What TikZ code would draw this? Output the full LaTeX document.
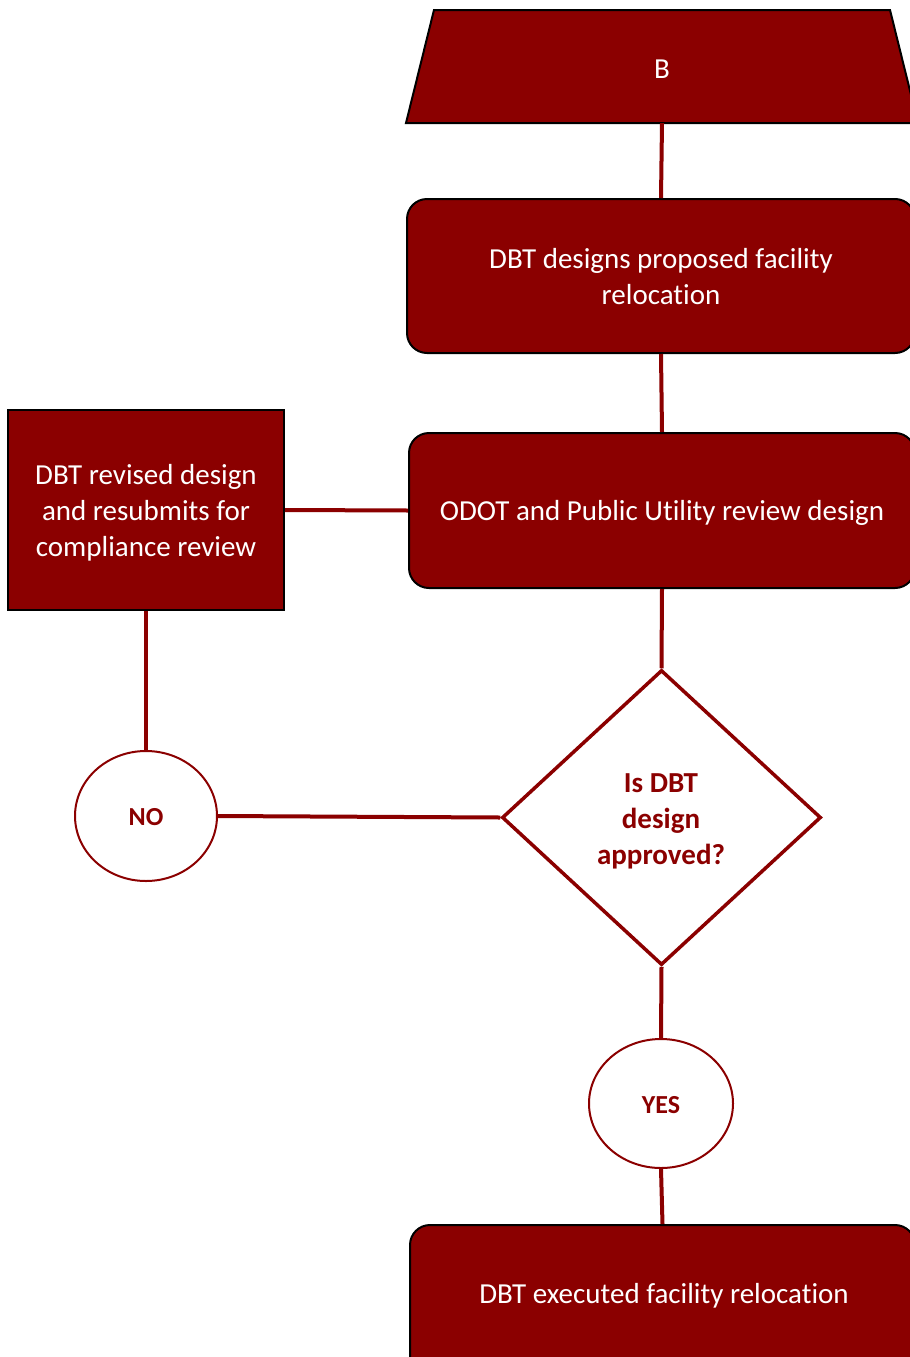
\documentclass[tikz,border=0pt]{standalone}
\usepackage{fontspec}
\setmainfont[Ligatures=NoCommon]{Carlito}
\usetikzlibrary{shapes.geometric}
\definecolor{dred}{HTML}{8B0000}
\begin{document}
\begin{tikzpicture}[x=1pt,y=-1pt,
  procbox/.style={draw=black,line width=2pt,fill=dred,rounded corners=20pt,inner sep=0pt},
  sqbox/.style={draw=black,line width=2pt,fill=dred,inner sep=0pt},
  wtext/.style={text=white,align=center,inner sep=0pt,font=\fontsize{29}{36}\selectfont},
  rtext/.style={text=dred,align=center,inner sep=0pt,font=\fontsize{29}{36}\selectfont\bfseries},
  atext/.style={text=dred,inner sep=0pt,font=\fontsize{26}{31}\selectfont\bfseries},
  answer/.style={draw=dred,line width=2pt,fill=white,ellipse,inner sep=0pt},
  decision/.style={draw=dred,line width=3.5pt,fill=white,diamond,inner sep=0pt},
  link/.style={draw=dred,line width=4pt}]
\useasboundingbox (0,0) rectangle (910,1357);
\clip (0,0) rectangle (910,1357);
% trapezoid B
\fill[dred] (434,10) -- (890,10) -- (918,123) -- (406,123) -- cycle;
\draw[black,line width=2pt] (918,123) -- (406,123) -- (434,10) -- (890,10) -- (918,123);
\node[minimum width=456pt,minimum height=113pt,inner sep=0pt] (B) at (662,66.5) {};
\node[wtext] (Btext) at (662,69.5) {B};
% boxes
\node[procbox,minimum width=508pt,minimum height=154pt] (design) at (661,276) {};
\node[wtext] (designtext) at (661,277) {DBT designs proposed facility\\relocation};
\node[procbox,minimum width=506pt,minimum height=155pt] (review) at (662,510.5) {};
\node[wtext] (reviewtext) at (662,512.5) {ODOT and Public Utility review design};
\node[sqbox,minimum width=276pt,minimum height=200pt] (revise) at (146,510) {};
\node[wtext] (revisetext) at (146,513) {DBT revised design\\and resubmits for\\compliance review};
\node[decision,minimum width=319pt,minimum height=295pt] (dec) at (661.5,817.5) {};
\node[rtext] (dectext) at (661,821.5) {Is DBT\\design\\approved?};
\node[answer,minimum width=142pt,minimum height=130pt] (no) at (146,816) {};
\node[atext] (notext) at (146,817) {NO};
\node[answer,minimum width=144pt,minimum height=129pt] (yes) at (661,1103.5) {};
\node[atext] (yestext) at (661,1105.5) {YES};
\node[procbox,minimum width=505pt,minimum height=150pt] (exec) at (662.5,1300) {};
\node[wtext] (exectext) at (664,1296) {DBT executed facility relocation};
% connectors
\draw[link] (B.south) -- (design.north);
\draw[link] (design.south) -- (review.north);
\draw[link] (revise.east) -- (review.west);
\draw[link] (review.south) -- (dec.north);
\draw[link] (revise.south) -- (no.north);
\draw[link] (no.east) -- (dec.west);
\draw[link] (dec.south) -- (yes.north);
\draw[link] (yes.south) -- (exec.north);
\end{tikzpicture}
\end{document}
